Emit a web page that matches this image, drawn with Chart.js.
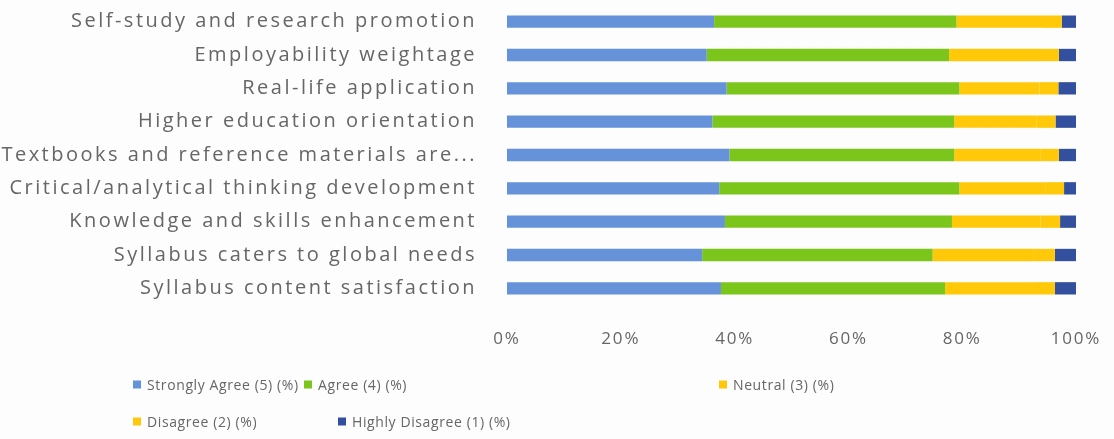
<!DOCTYPE html>
<html>
<head>
<meta charset="utf-8">
<script src="https://cdn.jsdelivr.net/npm/chart.js@4/dist/chart.umd.min.js"></script>
<style>
  html, body { margin: 0; padding: 0; background: #fdfdfd; }
  #wrap { position: relative; width: 1114px; height: 439px; }
  #chart { position: absolute; left: 0; top: 0; }
  .legend { position: absolute; left: 0; top: 0; width: 1114px; height: 439px; pointer-events: none;
            font-family: "Open Sans", sans-serif; font-size: 14px; color: #666; letter-spacing: 0.6px; }
  .item { position: absolute; display: flex; align-items: center; white-space: nowrap; transform: translateY(-50%); }
  .item i { display: inline-block; width: 8px; height: 8px; margin-right: 6px; }
</style>
</head>
<body>
<div id="wrap">
  <canvas id="chart" width="1114" height="439"></canvas>
  <div class="legend" id="legend"></div>
</div>
<script>
// survey categories, top to bottom
const categories = [
  'Self-study and research promotion',
  'Employability weightage',
  'Real-life application',
  'Higher education orientation',
  'Textbooks and reference materials are...',
  'Critical/analytical thinking development',
  'Knowledge and skills enhancement',
  'Syllabus caters to global needs',
  'Syllabus content satisfaction',
];

// share of responses per category (%)
const stronglyAgree   = [36.4, 35.1, 38.6, 36.1, 39.1, 37.3, 38.3, 34.3, 37.6];
const agree           = [42.6, 42.6, 40.9, 42.5, 39.5, 42.2, 39.9, 40.5, 39.4];
const neutral         = [15.2, 15.8, 14.1, 14.5, 15.1, 15.2, 15.6, 17.8, 15.8];
const disagree        = [ 3.3,  3.5,  3.3,  3.3,  3.3,  3.2,  3.4,  3.7,  3.5];
const highlyDisagree  = [ 2.5,  3.0,  3.1,  3.6,  3.0,  2.1,  2.8,  3.7,  3.7];

const xTicks = [0, 20, 40, 60, 80, 100];

const series = [
  { label: 'Strongly Agree (5) (%)',  data: stronglyAgree,  color: '#6592d9' },
  { label: 'Agree (4) (%)',           data: agree,          color: '#7cc61c' },
  { label: 'Neutral (3) (%)',         data: neutral,        color: '#ffc90a' },
  { label: 'Disagree (2) (%)',        data: disagree,       color: '#ffc90a' },
  { label: 'Highly Disagree (1) (%)', data: highlyDisagree, color: '#33509f' },
];

// legend slots: [series index, x of swatch, y centre]
const legendSlots = [
  [0, 133, 384], [1, 304, 384], [2, 719, 384],
  [3, 133, 421], [4, 338, 421],
];

const FONT = '"Open Sans", sans-serif';
const TEXT = '#666';

// Chart.js has no letter-spacing option: wrap each scale's label drawing
function spaced(px) {
  return s => {
    if (s._spaced) return;
    s._spaced = true;
    const base = s.drawLabels;
    s.drawLabels = function (area) {
      this.ctx.save();
      this.ctx.letterSpacing = px;
      base.call(this, area);
      this.ctx.restore();
    };
  };
}

new Chart(document.getElementById('chart'), {
  type: 'bar',
  data: {
    labels: categories,
    datasets: series.map(s => ({
      label: s.label,
      data: s.data,
      backgroundColor: s.color,
      borderWidth: 0,
      barPercentage: 0.37,
      categoryPercentage: 1,
    })),
  },
  options: {
    indexAxis: 'y',
    responsive: false,
    animation: false,
    layout: { padding: { top: 5, right: 38, bottom: 84, left: 0 } },
    plugins: { legend: { display: false }, tooltip: { enabled: false } },
    scales: {
      x: {
        stacked: true, min: 0, max: 100,
        afterBuildTicks: s => { s.ticks = xTicks.map(v => ({ value: v })); },
        afterFit: s => { s.height = 50; s.paddingLeft = 0; s.paddingRight = 0; },
        afterUpdate: spaced('1.8px'),
        grid: { display: false, tickLength: 24 }, border: { display: false },
        ticks: { color: TEXT, font: { family: FONT, size: 17 }, padding: 0, callback: v => v + '%' },
      },
      y: {
        stacked: true,
        afterFit: s => { s.width = 507; s.paddingTop = 0; s.paddingBottom = 0; },
        afterUpdate: spaced('2.5px'),
        grid: { display: false, tickLength: 30 }, border: { display: false },
        ticks: { color: TEXT, font: { family: FONT, size: 20 }, padding: 0 },
      },
    },
  },
});

// legend laid out in two rows under the axis
document.getElementById('legend').innerHTML = legendSlots.map(([i, x, y]) =>
  `<div class="item" style="left:${x}px;top:${y}px"><i style="background:${series[i].color}"></i>${series[i].label}</div>`
).join('');
</script>
</body>
</html>
